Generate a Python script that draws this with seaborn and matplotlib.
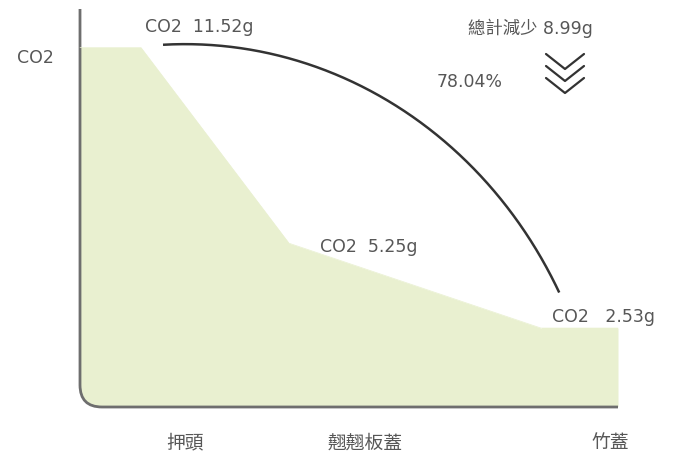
import numpy as np
import matplotlib
matplotlib.use("Agg")
import matplotlib.pyplot as plt
import seaborn as sns
from matplotlib.path import Path
from matplotlib.patches import PathPatch

# data
categories = ['押頭', '翹翹板蓋', '竹蓋']
co2_g = [11.52, 5.25, 2.53]
# where each stage sits on the horizontal scale (start, end of its plateau)
stage_start = [0.0, 2.09, 4.61]
stage_end = [0.61, 2.09, 5.38]
label_x = [1.05, 2.85, 5.30]

reduction = co2_g[0] - co2_g[-1]
reduction_pct = reduction / co2_g[0] * 100

sns.set_theme(style="white")
plt.rcParams['font.family'] = ['DejaVu Sans', 'Noto Sans CJK TC']

fill_color = '#e9f0d0'
axis_color = '#6e6e6e'
text_color = '#575757'
arc_color = '#333333'

fig = plt.figure(figsize=(6.73, 4.60), dpi=100)
ax = fig.add_axes([0, 0, 1, 1])
ax.set_xlim(-0.80, 5.93)
ax.set_ylim(-52 / 31.2, 408 / 31.2)
ax.axis('off')

# area outline built from the stage plateaus
xs, ys = [], []
for s, e, v in zip(stage_start, stage_end, co2_g):
    xs += [s, e]
    ys += [v, v]
sns.lineplot(x=xs, y=ys, color=fill_color, linewidth=0.5, ax=ax, sort=False)
area = ax.fill_between(xs, ys, 0, color=fill_color, linewidth=0)

# axis with rounded corner
rx, ry = 0.22, 22 / 31.2
top = 398 / 31.2
verts = [(0, top), (0, ry), (0, 0), (rx, 0), (stage_end[-1], 0)]
codes = [Path.MOVETO, Path.LINETO, Path.CURVE3, Path.CURVE3, Path.LINETO]
ax.add_patch(PathPatch(Path(verts, codes), fill=False, edgecolor=axis_color,
                       linewidth=2.0, capstyle='butt'))

# clip the area to the rounded corner
clip_verts = [(0, top), (0, ry), (0, 0), (rx, 0), (stage_end[-1] + 1, 0),
              (stage_end[-1] + 1, top), (0, top)]
clip_codes = [Path.MOVETO, Path.LINETO, Path.CURVE3, Path.CURVE3, Path.LINETO,
              Path.LINETO, Path.CLOSEPOLY]
clip = PathPatch(Path(clip_verts, clip_codes), transform=ax.transData, visible=False)
ax.add_patch(clip)
area.set_clip_path(clip)

# arc from first to last value
t = np.radians(np.linspace(93, 27, 200))
cx, cy, ax_r, ay_r = 1.05, -2.95, 4.2, 14.58
ax.plot(cx + ax_r * np.cos(t), cy + ay_r * np.sin(t), color=arc_color, linewidth=1.8,
        solid_capstyle='butt')

# chevrons
chev_x, chev_w, chev_h = 4.85, 0.19, 15 / 31.2
for tip_px in [70, 82, 94]:
    tip = (408 - tip_px) / 31.2
    ax.plot([chev_x - chev_w, chev_x, chev_x + chev_w], [tip + chev_h, tip, tip + chev_h],
            color=arc_color, linewidth=1.6)

fs = 12.5
ax.text(-0.63, (408 - 58) / 31.2, 'CO2', color=text_color, fontsize=fs, ha='left', va='center')
ax.text(0.65, co2_g[0] + 0.7, f'CO2  {co2_g[0]:.2f}g', color=text_color, fontsize=fs,
        ha='left', va='center')
ax.text(2.40, co2_g[1] - 0.1, f'CO2  {co2_g[1]:.2f}g', color=text_color, fontsize=fs,
        ha='left', va='center')
ax.text(4.72, co2_g[2] + 0.4, f'CO2   {co2_g[2]:.2f}g', color=text_color, fontsize=fs,
        ha='left', va='center')
ax.text(3.88, (408 - 28) / 31.2, f'總計減少 {reduction:.2f}g', color=text_color,
        fontsize=fs, ha='left', va='center')
ax.text(3.57, (408 - 82) / 31.2, f'{reduction_pct:.2f}%', color=text_color, fontsize=fs,
        ha='left', va='center')

for x, lab in zip(label_x, categories):
    ax.text(x, -35 / 31.2, lab, color=text_color, fontsize=13.5, ha='center', va='center')

fig.savefig('out.png', dpi=100)
